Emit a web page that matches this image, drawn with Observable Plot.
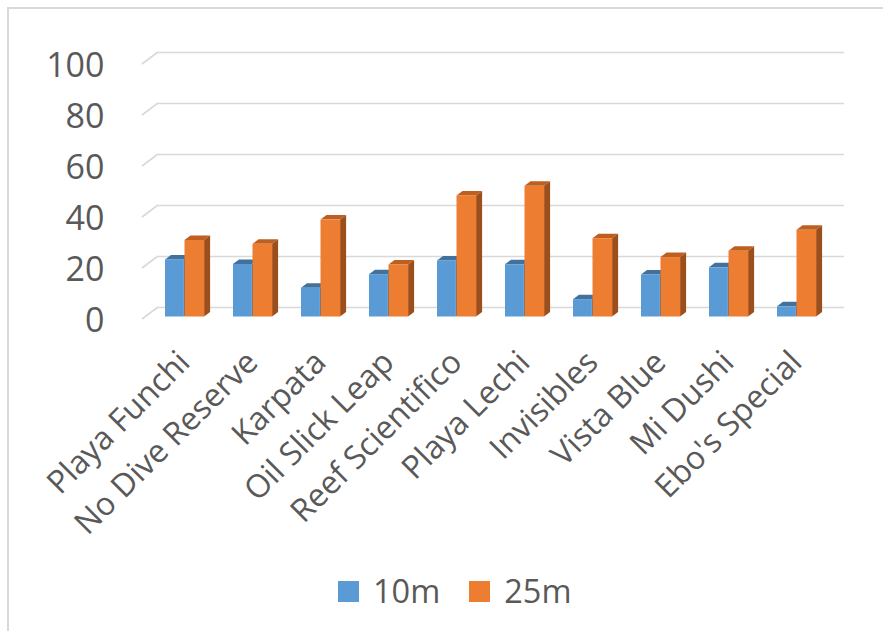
<!DOCTYPE html>
<html><head><meta charset="utf-8">
<script src="https://cdn.jsdelivr.net/npm/d3@7"></script>
<script src="https://cdn.jsdelivr.net/npm/@observablehq/plot@0.6"></script>
<style>
html,body{margin:0;padding:0;background:#fff;overflow:hidden;width:883px;height:631px;font-family:"Open Sans",sans-serif;}
#frame{position:absolute;left:7px;top:7px;width:940px;height:700px;border:2px solid #d9d9d9;}
#chart{position:absolute;left:0;top:0;}
#legend{position:absolute;top:573px;left:338px;display:flex;align-items:center;font-size:32.5px;color:#595959;line-height:36px;}
#legend .sw{width:21px;height:21px;display:inline-block;margin-right:14px;}
#legend .it{display:flex;align-items:center;margin-right:29px;}
</style></head>
<body>
<div id="frame"></div>
<div id="chart"></div>
<div id="legend"></div>
<script>
const sites = ["Playa Funchi","No Dive Reserve","Karpata","Oil Slick Leap","Reef Scientifico","Playa Lechi","Invisibles","Vista Blue","Mi Dushi","Ebo's Special"];
const depth10m = [22.4, 20.6, 11.3, 16.6, 22, 20.5, 6.8, 16.5, 19.3, 4];
const depth25m = [30, 28.5, 38, 20.4, 47.5, 51.3, 30.7, 23.3, 25.8, 34];
const seriesNames = ["10m","25m"];
const yTicks = [0,20,40,60,80,100];

const colors = {
  "10m": {front:"#5B9BD5", top:"#41719C", side:"#3A6690"},
  "25m": {front:"#ED7D31", top:"#BE5F20", side:"#9C4F1B"}
};

const rows10 = sites.map((s,i)=>({site:s, v:depth10m[i]}));
const rows25 = sites.map((s,i)=>({site:s, v:depth25m[i]}));

function bar3d(data, c, insetLeft, insetRight) {
  return Plot.barY(data, {
    x:"site", y:"v", fill:c.front, insetLeft, insetRight,
    render(index, scales, values, dimensions, context, next) {
      const g = next(index, scales, values, dimensions, context);
      const ddx = 6, ddy = 4.5;
      d3.select(g).selectAll("rect").each(function() {
        const r = d3.select(this);
        const x0 = +r.attr("x"), y0 = +r.attr("y"), w = +r.attr("width"), h = +r.attr("height");
        const p = d3.select(this.parentNode);
        p.insert("polygon", () => this)
          .attr("points", [[x0,y0],[x0+ddx,y0-ddy],[x0+w+ddx,y0-ddy],[x0+w,y0]].map(d=>d.join(",")).join(" "))
          .attr("fill", c.top);
        p.insert("polygon", () => this)
          .attr("points", [[x0+w,y0],[x0+w+ddx,y0-ddy],[x0+w+ddx,y0+h-ddy],[x0+w,y0+h]].map(d=>d.join(",")).join(" "))
          .attr("fill", c.side);
      });
      return g;
    }
  });
}

const chart = Plot.plot({
  width: 883, height: 560,
  marginLeft: 142, marginRight: 55, marginTop: 61.5, marginBottom: 243.5,
  style: {fontFamily: "Open Sans", color: "#595959", background: "transparent"},
  x: {domain: sites, padding: 0, label: null},
  y: {domain: [0,100], label: null},
  marks: [
    Plot.ruleY(yTicks, {y: d=>d, stroke:"#d9d9d9", strokeWidth:1.6, dx:16, dy:-9.5}),
    Plot.ruleY(yTicks, {y: d=>d, stroke:"#d9d9d9", render(index, scales, values, dimensions) {
      const g = d3.create("svg:g").attr("stroke","#d9d9d9").attr("stroke-width",1.6);
      for (const i of index) {
        const yy = values.y[i];
        g.append("line").attr("x1", dimensions.marginLeft).attr("y1", yy+2.5)
          .attr("x2", dimensions.marginLeft+16).attr("y2", yy-9.5);
      }
      return g.node();
    }}),
    bar3d(rows10, colors["10m"], 20, 29.1),
    bar3d(rows25, colors["25m"], 39.5, 8.9),
    Plot.axisY(yTicks, {anchor:"left", tickSize:0, tickPadding:38, dy:4, fontSize:34, fill:"#595959", label:null}),
    Plot.axisX({tickRotate:-45, tickSize:0, tickPadding:40, dx:5, fontSize:32, fill:"#595959", label:null})
  ]
});
document.getElementById("chart").appendChild(chart);

const legend = d3.select("#legend");
seriesNames.forEach(n => {
  const it = legend.append("div").attr("class","it");
  it.append("span").attr("class","sw").style("background", colors[n].front);
  it.append("span").text(n);
});
</script>
</body></html>
